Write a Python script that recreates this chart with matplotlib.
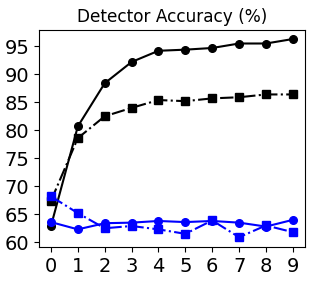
import matplotlib
matplotlib.use('Agg')
import matplotlib.pyplot as plt

steps = list(range(10))
black_circle = [62.9, 80.7, 88.4, 92.2, 94.2, 94.4, 94.7, 95.5, 95.5, 96.3]
black_square = [67.4, 78.6, 82.5, 84.0, 85.4, 85.2, 85.7, 85.9, 86.4, 86.4]
blue_circle = [63.6, 62.3, 63.4, 63.5, 63.8, 63.6, 63.8, 63.5, 62.8, 64.0]
blue_square = [68.2, 65.2, 62.5, 62.9, 62.3, 61.5, 63.9, 60.9, 63.0, 61.8]
yticks = [60, 65, 70, 75, 80, 85, 90, 95]

fig = plt.figure(figsize=(3.16, 2.81), dpi=100)
ax = fig.add_axes([0.123, 0.12, 0.842, 0.773])

ax.plot(steps, black_circle, '-', color='black', marker='o', ms=5.5, lw=1.5)
ax.plot(steps, black_square, '-.', color='black', marker='s', ms=5.5, lw=1.5)
ax.plot(steps, blue_circle, '-', color='blue', marker='o', ms=5.5, lw=1.5)
ax.plot(steps, blue_square, '-.', color='blue', marker='s', ms=5.5, lw=1.5)

ax.set_xticks(steps)
ax.set_yticks(yticks)
ax.set_ylim(59.1, 97.9)
ax.set_xlim(-0.45, 9.45)
ax.tick_params(labelsize=14)
ax.set_title('Detector Accuracy (%)', fontsize=12.2)

fig.savefig('out.png', dpi=100)
